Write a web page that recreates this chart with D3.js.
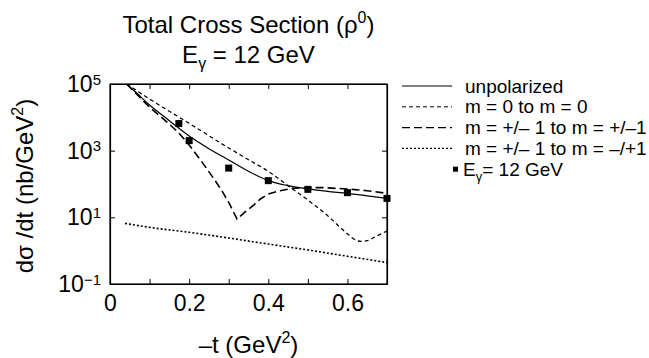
<!DOCTYPE html>
<html>
<head>
<meta charset="utf-8">
<script src="https://cdn.jsdelivr.net/npm/d3@7"></script>
<style>
  body { margin: 0; background: #fff; }
  svg text { font-family: "Liberation Sans", Arial, Helvetica, sans-serif; fill: #000; }
</style>
</head>
<body>
<svg id="chart" width="649" height="358"></svg>
<script>
// curve values (-t in GeV^2, dsigma/dt in nb/GeV^2)
const unpolT = [0.042, 0.07, 0.1, 0.15, 0.2, 0.25, 0.3, 0.35, 0.4, 0.45, 0.5, 0.55, 0.6, 0.65, 0.7]
const unpolV = [100000, 50000, 23400, 7940, 2750, 1150, 525, 240, 126, 89, 71, 60, 52.5, 44, 37]

const m00T = [0.042, 0.1, 0.2, 0.3, 0.35, 0.4, 0.45, 0.5, 0.55, 0.58, 0.6, 0.62, 0.635, 0.65, 0.67, 0.7]
const m00V = [100000, 35500, 6600, 1200, 537, 240, 89, 33, 11.2, 5.2, 3.2, 2.1, 1.9, 2.0, 2.6, 3.9]

const m11T = [0.042, 0.1, 0.15, 0.174, 0.2, 0.23, 0.26, 0.28, 0.3, 0.321, 0.34, 0.363, 0.38, 0.4, 0.43, 0.46, 0.5, 0.54, 0.6, 0.65, 0.7]
const m11V = [100000, 20000, 6300, 3390, 1480, 500, 158, 71, 28, 8.9, 14, 23.4, 35.5, 50, 63, 74, 77.6, 77.6, 70.8, 63, 52.5]

const mFlipT = [0.038, 0.1, 0.2, 0.3, 0.4, 0.5, 0.6, 0.7]
const mFlipV = [6.6, 5.0, 3.55, 2.4, 1.58, 1.05, 0.68, 0.44]

const dataT = [0.174, 0.2, 0.3, 0.4, 0.5, 0.6, 0.7]
const dataV = [6500, 2000, 300, 126, 69, 55, 37]

const xTicks = [0, 0.1, 0.2, 0.3, 0.4, 0.5, 0.6, 0.7]
const xLabels = [0, 0.2, 0.4, 0.6]
const yTicks = [1e-1, 1e1, 1e3, 1e5]
const yExp = ['\u22121', '1', '3', '5']

const legendNames = ['unpolarized', 'm = 0 to m = 0', 'm = +/\u2013 1 to m = +/\u20131', 'm = +/\u2013 1 to m = \u2013/+1']

const margin = { left: 110, top: 84 }
const width = 277
const height = 200

const svg = d3.select('#chart')
const g = svg.append('g').attr('transform', `translate(${margin.left},${margin.top})`)

const x = d3.scaleLinear().domain([0, 0.7]).range([0, width])
const y = d3.scaleLog().domain([1e-1, 1e5]).range([height, 0])

// styles for each curve
const series = [
  { t: unpolT, v: unpolV, dash: null, sw: 1.2, curve: d3.curveMonotoneX },
  { t: m00T, v: m00V, dash: '4,3', sw: 1.2, curve: d3.curveMonotoneX },
  { t: m11T, v: m11V, dash: '8,4', sw: 1.6, curve: d3.curveLinear },
  { t: mFlipT, v: mFlipV, dash: '2,2', sw: 1.6, curve: d3.curveMonotoneX }
]

g.append('clipPath').attr('id', 'clip')
  .append('rect').attr('width', width).attr('height', height)

const curves = g.append('g').attr('clip-path', 'url(#clip)')
series.forEach(s => {
  const line = d3.line()
    .x((d, i) => x(s.t[i]))
    .y(d => y(d))
    .curve(s.curve)
  curves.append('path')
    .attr('d', line(s.v))
    .attr('fill', 'none')
    .attr('stroke', '#000')
    .attr('stroke-width', s.sw)
    .attr('stroke-dasharray', s.dash)
})

// data points
g.append('g').selectAll('rect')
  .data(dataV)
  .join('rect')
  .attr('x', (d, i) => x(dataT[i]) - 3.5)
  .attr('y', d => y(d) - 3.5)
  .attr('width', 7)
  .attr('height', 7)
  .attr('fill', '#000')

// axes, ticks pointing inward
const xAxis = g.append('g').attr('transform', `translate(0,${height})`)
  .call(d3.axisBottom(x).tickValues(xTicks).tickSizeInner(-5).tickSizeOuter(0).tickPadding(11)
    .tickFormat(d => xLabels.some(l => Math.abs(l - d) < 1e-9) ? d3.format('~g')(d) : ''))
g.append('g')
  .call(d3.axisTop(x).tickValues(xTicks).tickSizeInner(-5).tickSizeOuter(0).tickFormat(''))
const yAxis = g.append('g')
  .call(d3.axisLeft(y).tickValues(yTicks).tickSizeInner(-5).tickSizeOuter(0).tickPadding(9).tickFormat(''))
g.append('g').attr('transform', `translate(${width},0)`)
  .call(d3.axisRight(y).tickValues(yTicks).tickSizeInner(-5).tickSizeOuter(0).tickFormat(''))

g.selectAll('.domain').attr('stroke', '#000').attr('stroke-width', 1.2)
g.selectAll('.tick line').attr('stroke', '#000').attr('stroke-width', 1)

xAxis.selectAll('text').attr('font-size', 23).attr('font-family', null)

yAxis.selectAll('.tick text')
  .attr('font-size', 23)
  .attr('font-family', null)
  .attr('dy', '0.33em')
  .each(function (d, i) {
    const t = d3.select(this)
    t.text('10')
    t.append('tspan').attr('dy', '-0.5em').attr('font-size', 15).text(yExp[i])
  })

// frame right/top lines (domain paths only draw one side each)
g.append('rect').attr('width', width).attr('height', height)
  .attr('fill', 'none').attr('stroke', '#000').attr('stroke-width', 1.2)

// titles
const cx = margin.left + width / 2
const t1 = svg.append('text').attr('x', cx).attr('y', 33).attr('text-anchor', 'middle').attr('font-size', 24)
t1.append('tspan').text('Total Cross Section (\u03C1')
t1.append('tspan').attr('dy', -10).attr('font-size', 16).text('0')
t1.append('tspan').attr('dy', 10).text(')')

const t2 = svg.append('text').attr('x', cx).attr('y', 63).attr('text-anchor', 'middle').attr('font-size', 24)
t2.append('tspan').text('E')
t2.append('tspan').attr('dy', 6).attr('font-size', 16).text('\u03B3')
t2.append('tspan').attr('dy', -6).text(' = 12 GeV')

const xl = svg.append('text').attr('x', cx).attr('y', 353).attr('text-anchor', 'middle').attr('font-size', 24)
xl.append('tspan').text('\u2013t (GeV')
xl.append('tspan').attr('dy', -10).attr('font-size', 16).text('2')
xl.append('tspan').attr('dy', 10).text(')')

const yl = svg.append('text').attr('transform', `translate(33,${margin.top + height / 2 + 2}) rotate(-90)`)
  .attr('text-anchor', 'middle').attr('font-size', 24)
yl.append('tspan').text('d\u03C3 /dt (nb/GeV')
yl.append('tspan').attr('dy', -10).attr('font-size', 16).text('2')
yl.append('tspan').attr('dy', 10).text(')')

// legend
const legend = svg.append('g').attr('transform', 'translate(402,86)')
const rowH = 20.8
series.forEach((s, i) => {
  legend.append('line')
    .attr('x1', 0).attr('x2', 50)
    .attr('y1', i * rowH).attr('y2', i * rowH)
    .attr('stroke', '#000')
    .attr('stroke-width', i >= 2 ? 1.3 : 1)
    .attr('stroke-dasharray', s.dash)
  legend.append('text')
    .attr('x', 63).attr('y', i * rowH).attr('dy', '0.35em')
    .attr('font-size', 19)
    .text(legendNames[i])
})
legend.append('rect')
  .attr('x', 51).attr('y', 4 * rowH - 2.5)
  .attr('width', 5).attr('height', 5).attr('fill', '#000')
const lt = legend.append('text').attr('x', 61).attr('y', 4 * rowH).attr('dy', '0.35em').attr('font-size', 19)
lt.append('tspan').text('E')
lt.append('tspan').attr('dy', 5).attr('font-size', 13).text('\u03B3')
lt.append('tspan').attr('dy', -5).text('= 12 GeV')
</script>
</body>
</html>
